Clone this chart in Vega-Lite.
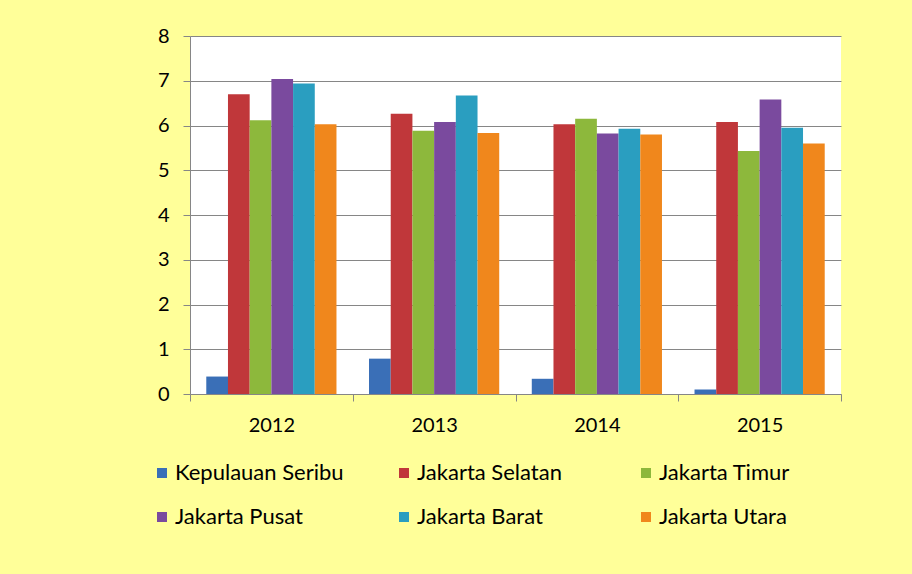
{
  "$schema": "https://vega.github.io/schema/vega-lite/v6.json",
  "width": 651,
  "height": 358,
  "autosize": {"type": "none"},
  "padding": {"left": 190, "top": 36, "right": 71, "bottom": 180},
  "background": "#FFFF99",
  "config": {
    "view": {"stroke": null, "fill": "white"},
    "font": "Lato"
  },
  "data": {
    "values": [
      {"year": "2012", "region": "Kepulauan Seribu", "value": 0.39},
      {"year": "2012", "region": "Jakarta Selatan", "value": 6.70},
      {"year": "2012", "region": "Jakarta Timur", "value": 6.12},
      {"year": "2012", "region": "Jakarta Pusat", "value": 7.04},
      {"year": "2012", "region": "Jakarta Barat", "value": 6.94},
      {"year": "2012", "region": "Jakarta Utara", "value": 6.03},
      {"year": "2013", "region": "Kepulauan Seribu", "value": 0.79},
      {"year": "2013", "region": "Jakarta Selatan", "value": 6.26},
      {"year": "2013", "region": "Jakarta Timur", "value": 5.88},
      {"year": "2013", "region": "Jakarta Pusat", "value": 6.08},
      {"year": "2013", "region": "Jakarta Barat", "value": 6.67},
      {"year": "2013", "region": "Jakarta Utara", "value": 5.83},
      {"year": "2014", "region": "Kepulauan Seribu", "value": 0.34},
      {"year": "2014", "region": "Jakarta Selatan", "value": 6.03},
      {"year": "2014", "region": "Jakarta Timur", "value": 6.15},
      {"year": "2014", "region": "Jakarta Pusat", "value": 5.82},
      {"year": "2014", "region": "Jakarta Barat", "value": 5.93},
      {"year": "2014", "region": "Jakarta Utara", "value": 5.80},
      {"year": "2015", "region": "Kepulauan Seribu", "value": 0.10},
      {"year": "2015", "region": "Jakarta Selatan", "value": 6.08},
      {"year": "2015", "region": "Jakarta Timur", "value": 5.43},
      {"year": "2015", "region": "Jakarta Pusat", "value": 6.58},
      {"year": "2015", "region": "Jakarta Barat", "value": 5.95},
      {"year": "2015", "region": "Jakarta Utara", "value": 5.60}
    ]
  },
  "mark": {"type": "bar"},
  "encoding": {
    "x": {
      "field": "year",
      "type": "nominal",
      "scale": {"paddingInner": 0, "paddingOuter": 0},
      "axis": {
        "title": null,
        "labelAngle": 0,
        "labelFontSize": 20,
        "labelColor": "#000000",
        "labelPadding": 14,
        "tickBand": "extent",
        "tickSize": 7,
        "tickColor": "#868686",
        "domainColor": "#868686",
        "grid": false
      }
    },
    "xOffset": {
      "field": "region",
      "type": "nominal",
      "sort": ["Kepulauan Seribu", "Jakarta Selatan", "Jakarta Timur", "Jakarta Pusat", "Jakarta Barat", "Jakarta Utara"],
      "scale": {"paddingInner": 0, "paddingOuter": 0.75}
    },
    "y": {
      "field": "value",
      "type": "quantitative",
      "scale": {"domain": [0, 8], "nice": false},
      "axis": {
        "title": null,
        "values": [0, 1, 2, 3, 4, 5, 6, 7, 8],
        "labelFontSize": 20,
        "labelColor": "#000000",
        "labelPadding": 14,
        "tickSize": 7,
        "tickColor": "#868686",
        "domainColor": "#868686",
        "gridColor": "#868686",
        "gridWidth": 1
      }
    },
    "color": {
      "field": "region",
      "type": "nominal",
      "sort": ["Kepulauan Seribu", "Jakarta Selatan", "Jakarta Timur", "Jakarta Pusat", "Jakarta Barat", "Jakarta Utara"],
      "scale": {
        "domain": ["Kepulauan Seribu", "Jakarta Selatan", "Jakarta Timur", "Jakarta Pusat", "Jakarta Barat", "Jakarta Utara"],
        "range": ["#3A6FB7", "#C0373A", "#8DB83C", "#7A4A9E", "#2A9EC0", "#F0871C"]
      },
      "legend": {
        "title": null,
        "orient": "none",
        "direction": "horizontal",
        "legendX": -39,
        "legendY": 426,
        "columns": 3,
        "gridAlign": "all",
        "columnPadding": 49,
        "rowPadding": 22,
        "symbolType": "square",
        "symbolSize": 100,
        "symbolStrokeWidth": 0,
        "labelFontSize": 22,
        "labelColor": "#000000",
        "labelOffset": 2,
        "labelLimit": 300
      }
    }
  }
}
